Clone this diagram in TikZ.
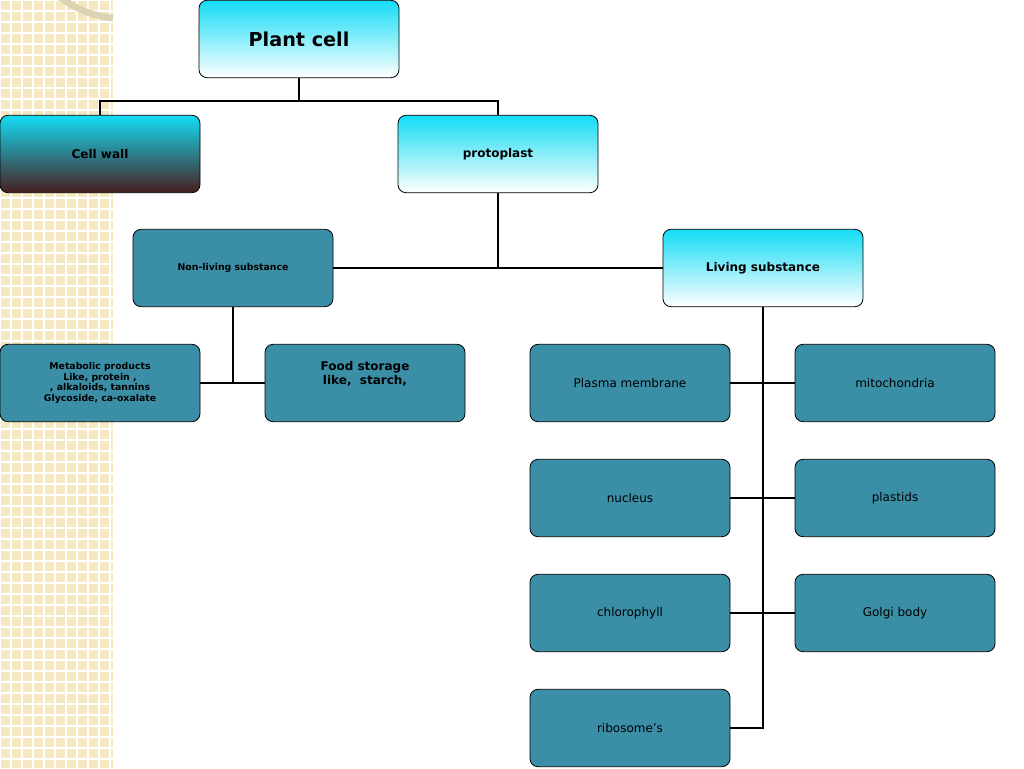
\documentclass[tikz,border=0pt]{standalone}
\usepackage{fontspec}
\setmainfont{DejaVu Sans}
\definecolor{tealc}{RGB}{58,142,165}
\definecolor{cyanc}{RGB}{20,220,245}
\definecolor{brownc}{RGB}{70,30,30}
\definecolor{beige}{RGB}{245,232,190}
\definecolor{arcc}{RGB}{220,210,180}
\begin{document}
\begin{tikzpicture}[x=0.75pt,y=-0.75pt,
 box/.style={draw=black,line width=0.6pt,rounded corners=6pt,minimum width=150pt,minimum height=58pt,inner sep=1pt,align=center},
 teal/.style={box,fill=tealc},
 cw/.style={box,top color=cyanc,bottom color=white},
 con/.style={line width=2pt,black}]
\useasboundingbox (0,0) rectangle (1024,768);
\fill[white] (0,0) rectangle (1024,768);
\fill[beige] (0,0) rectangle (113,768);
\foreach \i in {0,11,...,113} \draw[white,line width=1.2pt] (\i,0)--(\i,768);
\foreach \j in {0,11,...,768} \draw[white,line width=1.2pt] (0,\j)--(113,\j);
\draw[arcc,line width=5pt] (113,18) arc (95:265:105 and 110);
\node[cw,font=\bfseries\Large] (pc) at (299,39) {Plant cell};
\node[box,top color=cyanc,bottom color=brownc,font=\bfseries\small] (cw) at (100,154) {Cell wall};
\node[cw,font=\bfseries\small] (pp) at (498,154) {protoplast};
\node[teal,font=\bfseries\scriptsize] (nl) at (233,268) {Non-living substance};
\node[cw,font=\bfseries\small] (ls) at (763,268) {Living substance};
\node[teal,font=\bfseries\scriptsize] (mp) at (100,383) {Metabolic products\\Like, protein ,\\, alkaloids, tannins\\Glycoside, ca-oxalate};
\node[teal,font=\bfseries\small] (fs) at (365,383) {Food storage\\like,\ \ starch,\\[4pt]};
\node[teal,font=\small] (pm) at (630,383) {Plasma membrane};
\node[teal,font=\small] (mi) at (895,383) {mitochondria};
\node[teal,font=\small] (nu) at (630,498) {nucleus};
\node[teal,font=\small] (pl) at (895,498) {plastids};
\node[teal,font=\small] (ch) at (630,613) {chlorophyll};
\node[teal,font=\small] (gb) at (895,613) {Golgi body};
\node[teal,font=\small] (rb) at (630,728) {ribosome's};
\draw[con] (pc.south)--(299,101);
\draw[con] (cw.north)--(100,101)--(498,101)--(pp.north);
\draw[con] (pp.south)--(498,268);
\draw[con] (nl.east)--(ls.west);
\draw[con] (nl.south)--(233,383);
\draw[con] (mp.east)--(fs.west);
\draw[con] (ls.south)--(763,728)--(rb.east);
\draw[con] (pm.east)--(mi.west);
\draw[con] (nu.east)--(pl.west);
\draw[con] (ch.east)--(gb.west);
\end{tikzpicture}
\end{document}
